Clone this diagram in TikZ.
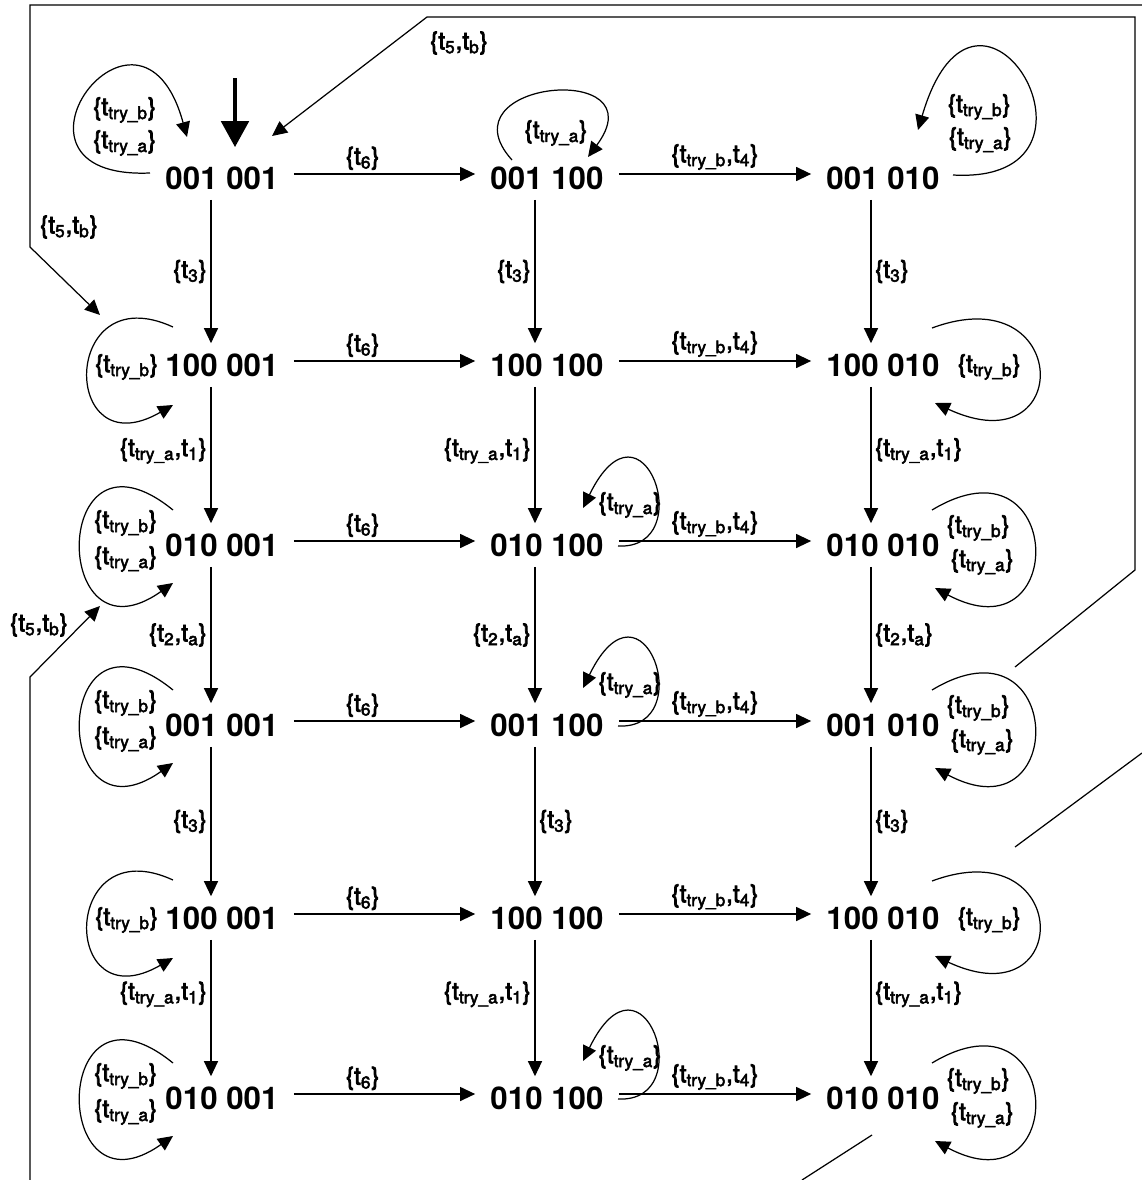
\documentclass[tikz,border=0pt]{standalone}
\usepackage{fontspec}
\setmainfont{TeX Gyre Heros}
\newfontfamily\lblfont{TeX Gyre Heros}[FakeBold=3]
\usetikzlibrary{arrows.meta,positioning}
\newcommand{\tsub}[1]{t\textsubscript{#1}}

\begin{document}
\begin{tikzpicture}[x=0.02cm, y=-0.02cm,
    state/.style={font=\fontsize{17.8}{20}\selectfont\bfseries, inner xsep=0.3cm, inner ysep=0.2cm},
    lbl/.style={font=\lblfont\fontsize{14}{16}\selectfont, inner sep=2pt},
    edge/.style={line width=0.7pt, -{Triangle[length=0.3cm,width=0.28cm]}},
    line/.style={line width=0.7pt},
    init/.style={line width=2.8pt, -{Triangle[length=0.52cm,width=0.54cm]}, shorten >=0.18cm}]
    \useasboundingbox (0,0) rectangle (1142,1180);

    % States
    \foreach \y/\a [count=\r] in {178/001,365/100,545/010,725/001,918/100,1098/010}{
        \node[state] (r\r-1) at (222,\y) {\a\ 001};
        \node[state] (r\r-2) at (547,\y) {\a\ 100};
        \node[state] (r\r-3) at (883,\y) {\a\ 010};
    }

    % Initial arrow
    \coordinate (start) at (235,78);
    \draw[init] (start) -- (start |- r1-1.north);

    % Horizontal transitions
    \foreach \r in {1,...,6}{
        \draw[edge] ([shift={(0,-4)}]r\r-1.east) -- node[lbl,above,pos=0.38] (h\r-a) {\{\tsub{6}\}} ([shift={(0,-4)}]r\r-2.west);
        \draw[edge] ([shift={(0,-4)}]r\r-2.east) -- node[lbl,above] (h\r-b) {\{\tsub{try\_b},\tsub{4}\}} ([shift={(0,-4)}]r\r-3.west);
    }

    % Vertical transitions
    \foreach \r/\s/\la/\sb/\p in {1/2/{\{\tsub{3}\}}/left/0.5, 2/3/{\{\tsub{try\_a},\tsub{1}\}}/left/0.47, 3/4/{\{\tsub{2},\tsub{a}\}}/left/0.5, 4/5/{\{\tsub{3}\}}/right/0.5, 5/6/{\{\tsub{try\_a},\tsub{1}\}}/left/0.4}{
        \draw[edge] ([shift={(-11,0)}]r\r-1.south) -- node[lbl,left,pos=\p] (v\r-1) {\la} ([shift={(-11,0)}]r\s-1.north);
        \draw[edge] ([shift={(-12,0)}]r\r-2.south) -- node[lbl,\sb,pos=\p] (v\r-2) {\la} ([shift={(-12,0)}]r\s-2.north);
        \draw[edge] ([shift={(-12,0)}]r\r-3.south) -- node[lbl,right,pos=\p] (v\r-3) {\la} ([shift={(-12,0)}]r\s-3.north);
    }

    % Self loops, first row
    \draw[edge] ([shift={(-72,-5)}]r1-1.center) .. controls +(-170,7) and +(-47,-172) .. ([shift={(-35,-41)}]r1-1.center);
    \node[lbl,anchor=east] (s1-1b) at ([shift={(-62,-68)}]r1-1.center) {\{\tsub{try\_b}\}};
    \node[lbl,anchor=east] (s1-1a) at ([shift={(-62,-35)}]r1-1.center) {\{\tsub{try\_a}\}};
    \draw[edge] ([shift={(-35,-18)}]r1-2.center) .. controls +(-72,-80) and +(72,-97) .. ([shift={(41,-21)}]r1-2.center);
    \node[lbl] (s1-2a) at ([shift={(9,-45)}]r1-2.center) {\{\tsub{try\_a}\}};
    \draw[edge] ([shift={(70,-3)}]r1-3.center) .. controls +(177,10) and +(60,-205) .. ([shift={(35,-48)}]r1-3.center);
    \node[lbl,anchor=west] (s1-3b) at ([shift={(61,-71)}]r1-3.center) {\{\tsub{try\_b}\}};
    \node[lbl,anchor=west] (s1-3a) at ([shift={(62,-38)}]r1-3.center) {\{\tsub{try\_a}\}};

    % Self loops with one label
    \foreach \r in {2,5}{
        \draw[edge] ([shift={(-49,-38)}]r\r-1.center) .. controls +(-113,-52) and +(-113,65) .. ([shift={(-49,40)}]r\r-1.center);
        \node[lbl,anchor=east] (s\r-1b) at ([shift={(-60,2)}]r\r-1.center) {\{\tsub{try\_b}\}};
        \draw[edge] ([shift={(49,-37)}]r\r-3.center) .. controls +(140,-52) and +(140,65) .. ([shift={(52,38)}]r\r-3.center);
        \node[lbl,anchor=west] (s\r-3b) at ([shift={(71,2)}]r\r-3.center) {\{\tsub{try\_b}\}};
    }

    % Self loops with two labels
    \foreach \r in {3,4,6}{
        \draw[edge] ([shift={(-49,-35)}]r\r-1.center) .. controls +(-123,-100) and +(-123,87) .. ([shift={(-49,38)}]r\r-1.center);
        \node[lbl,anchor=east] (s\r-1b) at ([shift={(-61,-22)}]r\r-1.center) {\{\tsub{try\_b}\}};
        \node[lbl,anchor=east] (s\r-1a) at ([shift={(-61,14)}]r\r-1.center) {\{\tsub{try\_a}\}};
        \draw[edge] ([shift={(71,1)}]r\r-2.center) .. controls +(82,4) and +(60,-123) .. ([shift={(36,-37)}]r\r-2.center);
        \node[lbl] (s\r-2a) at ([shift={(83,-40)}]r\r-2.center) {\{\tsub{try\_a}\}};
        \draw[edge] ([shift={(49,-35)}]r\r-3.center) .. controls +(133,-80) and +(135,72) .. ([shift={(52,43)}]r\r-3.center);
        \node[lbl,anchor=west] (s\r-3b) at ([shift={(60,-17)}]r\r-3.center) {\{\tsub{try\_b}\}};
        \node[lbl,anchor=west] (s\r-3a) at ([shift={(64,17)}]r\r-3.center) {\{\tsub{try\_a}\}};
    }

    % Back transitions {t5,tb}
    \coordinate (top-r) at (1142,5);
    \coordinate (in2) at ([shift={(-122,-50)}]r2-1.center);
    \draw[edge] (top-r) -- (30,5) -- (30,247) -- (in2);
    \node[lbl] (b1) at (69,227) {\{\tsub{5},\tsub{b}\}};

    \coordinate (out4) at ([shift={(132,-58)}]r4-3.center);
    \coordinate (in1) at ([shift={(50,-42)}]r1-1.center);
    \draw[edge] (out4) -- (1135,570) -- (1135,17) -- (427,17) -- (in1);
    \node[lbl] (b2) at (459,43) {\{\tsub{5},\tsub{b}\}};

    \coordinate (out5) at ([shift={(132,-71)}]r5-3.center);
    \draw[line] (out5) -- (1142,753);

    \coordinate (out6) at ([shift={(-11,37)}]r6-3.center);
    \draw[line] (out6) -- (802,1180);

    \coordinate (in3) at ([shift={(-122,61)}]r3-1.center);
    \draw[edge] (30,1180) -- (30,677) -- (in3);
    \node[lbl] (b3) at (39,625) {\{\tsub{5},\tsub{b}\}};

\end{tikzpicture}
\end{document}
